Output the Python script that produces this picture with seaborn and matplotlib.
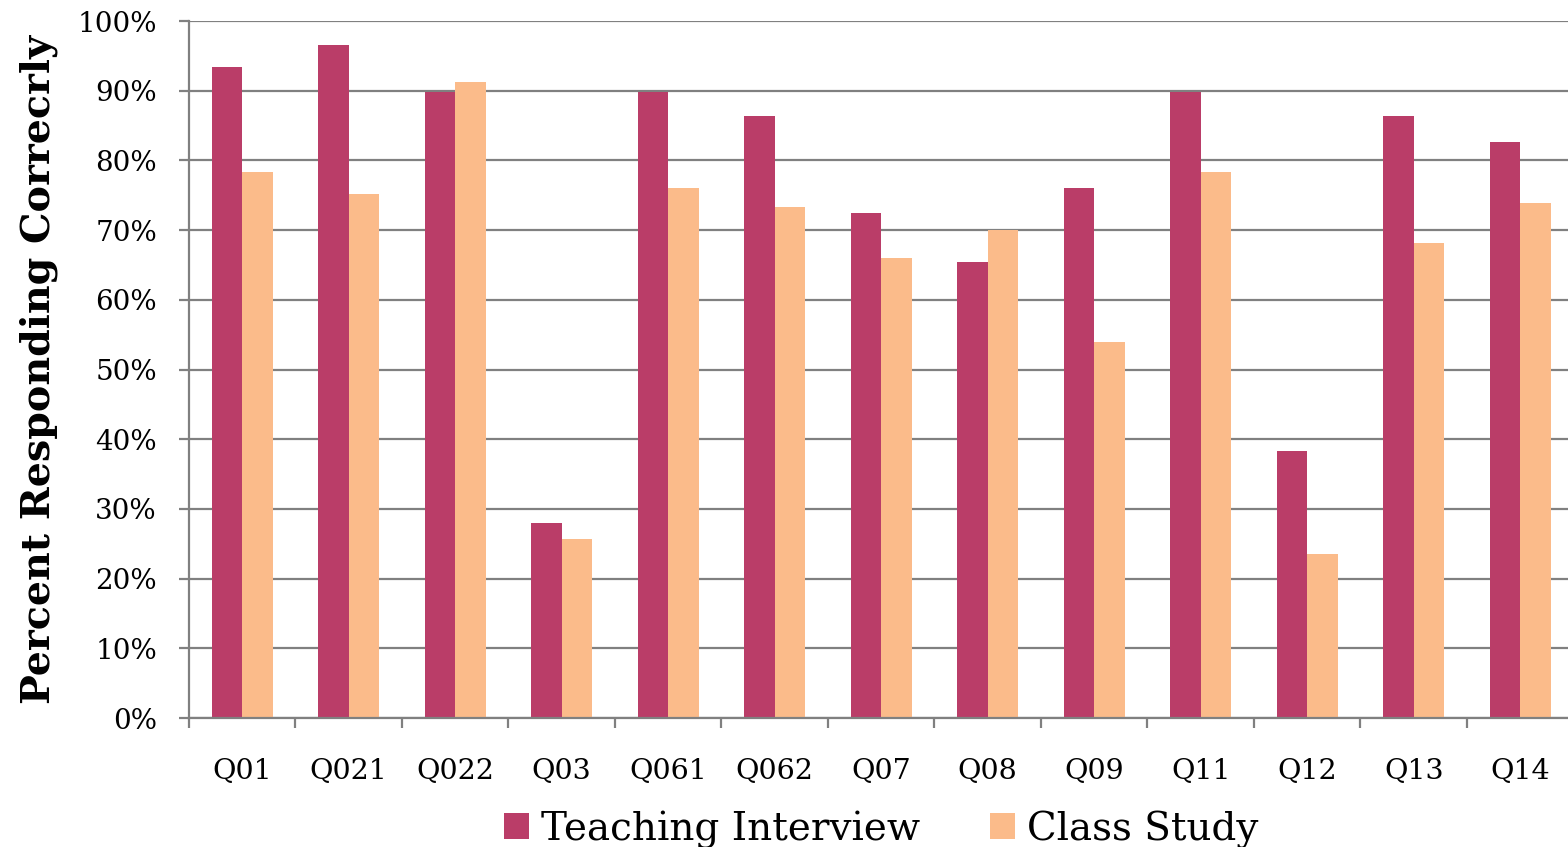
import matplotlib
matplotlib.use("Agg")
import matplotlib.pyplot as plt
import seaborn as sns
import pandas as pd
from matplotlib.ticker import FixedLocator, PercentFormatter

# Question labels and share of respondents answering correctly (%)
questions = ["Q01", "Q021", "Q022", "Q03", "Q061", "Q062", "Q07",
             "Q08", "Q09", "Q11", "Q12", "Q13", "Q14"]
teaching_interview = [93.4, 96.5, 89.8, 28.0, 89.8, 86.3, 72.5,
                      65.4, 76.0, 89.8, 38.3, 86.3, 82.7]
class_study = [78.3, 75.2, 91.3, 25.7, 76.0, 73.3, 66.0,
               70.0, 53.9, 78.3, 23.5, 68.2, 73.9]
series_names = ["Teaching Interview", "Class Study"]
series_colors = ["#BA3D68", "#FBBB8A"]
y_ticks = list(range(0, 101, 10))

df = pd.DataFrame({
    "Question": questions * 2,
    "Percent": teaching_interview + class_study,
    "Group": [series_names[0]] * len(questions) + [series_names[1]] * len(questions),
})

sns.set_theme(style="white")
plt.rcParams["font.family"] = ["DejaVu Serif"]
plt.rcParams["text.color"] = "black"
plt.rcParams["xtick.labelcolor"] = "black"
plt.rcParams["ytick.labelcolor"] = "black"
plt.rcParams["axes.labelcolor"] = "black"

fig = plt.figure(figsize=(15.68, 8.47), dpi=100)
ax = fig.add_axes([0.1205, 0.1523, 0.8830, 0.8229])

sns.barplot(data=df, x="Question", y="Percent", hue="Group",
            order=questions, hue_order=series_names,
            palette=series_colors, width=0.57, gap=0,
            saturation=1, errorbar=None, linewidth=0, ax=ax)

grid_color = "#808080"
ax.set_ylim(0, 100)
ax.set_xlim(-0.5, len(questions) - 0.5)
ax.yaxis.set_major_locator(FixedLocator(y_ticks))
ax.yaxis.set_major_formatter(PercentFormatter(decimals=0))
ax.grid(axis="y", color=grid_color, linewidth=1.6)
ax.set_axisbelow(True)

for side in ("top", "right"):
    ax.spines[side].set_visible(False)
for side in ("left", "bottom"):
    ax.spines[side].set_color(grid_color)
    ax.spines[side].set_linewidth(1.6)

# Category boundaries carry the tick marks; labels sit at centres
ax.xaxis.set_minor_locator(FixedLocator([i - 0.5 for i in range(len(questions) + 1)]))
ax.tick_params(axis="x", which="major", length=0, pad=28.5, labelsize=20.5)
ax.tick_params(axis="x", which="minor", bottom=True, length=7, width=1.6, color=grid_color)
ax.tick_params(axis="y", which="major", left=True, length=7, width=1.6,
               color=grid_color, pad=16, labelsize=20)

ax.set_xlabel("")
ax.set_ylabel("Percent Responding Correcrly", fontsize=28.5, fontweight="bold", labelpad=14)

handles, labels = ax.get_legend_handles_labels()
ax.legend(handles, labels, loc="center", bbox_to_anchor=(0.5, -0.16),
          ncol=2, frameon=False, fontsize=28, handlelength=0.65, handleheight=0.65,
          handletextpad=0.3, columnspacing=1.8)

fig.savefig("out.png", dpi=100)
